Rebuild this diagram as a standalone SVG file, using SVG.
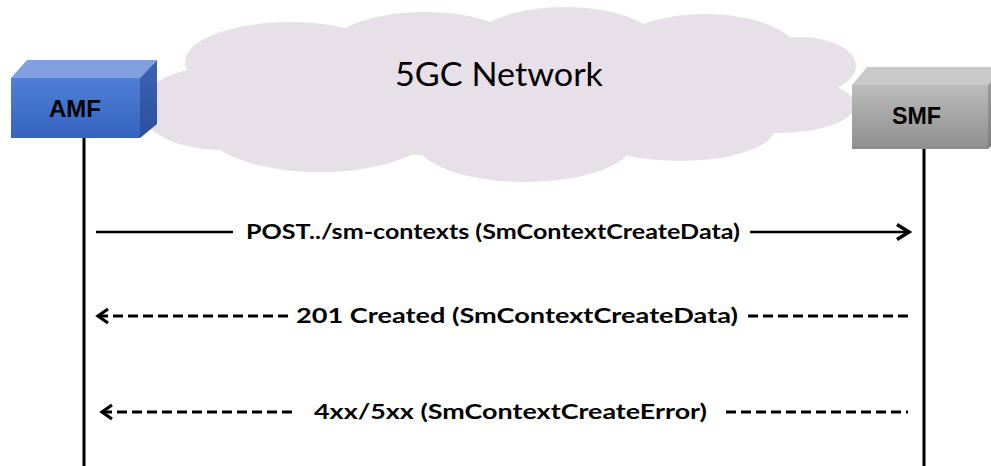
<svg xmlns="http://www.w3.org/2000/svg" width="991" height="466" viewBox="0 0 991 466">
  <defs>
    <linearGradient id="amfFront" x1="0" y1="0" x2="0" y2="1">
      <stop offset="0" stop-color="#4f80d8"/>
      <stop offset="1" stop-color="#3563c0"/>
    </linearGradient>
    <linearGradient id="amfSide" x1="0" y1="0" x2="0" y2="1">
      <stop offset="0" stop-color="#3d64b4"/>
      <stop offset="1" stop-color="#2c4f9c"/>
    </linearGradient>
    <linearGradient id="smfFront" x1="0" y1="0" x2="0" y2="1">
      <stop offset="0" stop-color="#bcbcbc"/>
      <stop offset="1" stop-color="#8e8e8e"/>
    </linearGradient>
    <linearGradient id="smfSide" x1="0" y1="0" x2="0" y2="1">
      <stop offset="0" stop-color="#a0a0a0"/>
      <stop offset="1" stop-color="#7f7f7f"/>
    </linearGradient>
    <marker id="openLeft" markerUnits="userSpaceOnUse" markerWidth="20" markerHeight="20" refX="2" refY="10" orient="auto" overflow="visible">
      <polyline points="12,3 2,10 12,17" fill="none" stroke="#000" stroke-width="3.2" stroke-dasharray="none"/>
    </marker>
    <marker id="openRight" markerUnits="userSpaceOnUse" markerWidth="20" markerHeight="20" refX="18" refY="10" orient="auto" overflow="visible">
      <polyline points="5,2.5 17,10 5,17.5" fill="none" stroke="#000" stroke-width="3.6"/>
    </marker>
  </defs>
  <style>
    .cloud { fill: #e8e0e9; }
    .title { font-family: Lato, "Open Sans", sans-serif; font-size: 32px; fill: #000; }
    .node-label { font-family: "Liberation Sans", Arial, sans-serif; font-weight: bold; font-size: 23px; fill: #000; }
    .msg { font-family: Lato, "Open Sans", sans-serif; font-weight: bold; font-size: 21px; fill: #000; }
    .lifeline { stroke: #000; stroke-width: 3; fill: none; }
    .solid { stroke: #000; stroke-width: 2.6; fill: none; }
    .dashed { stroke: #000; stroke-width: 3; fill: none; stroke-dasharray: 10 5; }
  </style>

  <rect width="991" height="466" fill="#ffffff"/>

  <g id="cloud">
    <ellipse class="cloud" cx="500" cy="95" rx="330" ry="62"/>
    <ellipse class="cloud" cx="290" cy="62" rx="105" ry="40"/>
    <ellipse class="cloud" cx="425" cy="52" rx="100" ry="40"/>
    <ellipse class="cloud" cx="565" cy="46" rx="95" ry="39"/>
    <ellipse class="cloud" cx="705" cy="56" rx="95" ry="42"/>
    <ellipse class="cloud" cx="800" cy="66" rx="56" ry="29"/>
    <ellipse class="cloud" cx="780" cy="105" rx="75" ry="28"/>
    <ellipse class="cloud" cx="680" cy="128" rx="95" ry="33"/>
    <ellipse class="cloud" cx="525" cy="140" rx="110" ry="42"/>
    <ellipse class="cloud" cx="320" cy="128" rx="115" ry="44"/>
    <ellipse class="cloud" cx="222" cy="108" rx="82" ry="42"/>
    <text class="title" x="395" y="86" textLength="208" lengthAdjust="spacingAndGlyphs">5GC Network</text>
  </g>

  <g id="lifelines">
    <line class="lifeline" x1="84" y1="138" x2="84" y2="466"/>
    <line class="lifeline" x1="924" y1="149" x2="924" y2="466"/>
  </g>

  <g id="AMF">
    <polygon points="11,78 27,60 157,60 140,78" fill="#7f9fde"/>
    <polygon points="140,78 157,60 157,124 140,138" fill="url(#amfSide)"/>
    <rect x="11" y="78" width="129" height="60" fill="url(#amfFront)"/>
    <text class="node-label" x="49" y="117" textLength="52" lengthAdjust="spacingAndGlyphs">AMF</text>
  </g>

  <g id="SMF">
    <polygon points="852,85 867,67 1003,67 988,85" fill="#c9c9c9"/>
    <polygon points="988,85 1003,67 1003,135 988,149" fill="url(#smfSide)"/>
    <rect x="852" y="85" width="136" height="64" fill="url(#smfFront)"/>
    <text class="node-label" x="892" y="124" textLength="49" lengthAdjust="spacingAndGlyphs">SMF</text>
  </g>

  <g id="connectors">
    <line class="solid" x1="96" y1="232" x2="233" y2="232"/>
    <line class="solid" x1="750" y1="232" x2="910" y2="232" marker-end="url(#openRight)"/>
    <line class="dashed" x1="98" y1="316" x2="288" y2="316" marker-start="url(#openLeft)"/>
    <line class="dashed" x1="748" y1="316" x2="908" y2="316"/>
    <line class="dashed" x1="102" y1="412" x2="297" y2="412" marker-start="url(#openLeft)"/>
    <line class="dashed" x1="726" y1="412" x2="908" y2="412"/>
  </g>

  <g id="labels">
    <text class="msg" x="246" y="239" textLength="494" lengthAdjust="spacingAndGlyphs">POST../sm-contexts (SmContextCreateData)</text>
    <text class="msg" x="296" y="323" textLength="442" lengthAdjust="spacingAndGlyphs">201 Created (SmContextCreateData)</text>
    <text class="msg" x="314" y="419" textLength="393" lengthAdjust="spacingAndGlyphs">4xx/5xx (SmContextCreateError)</text>
  </g>
</svg>
